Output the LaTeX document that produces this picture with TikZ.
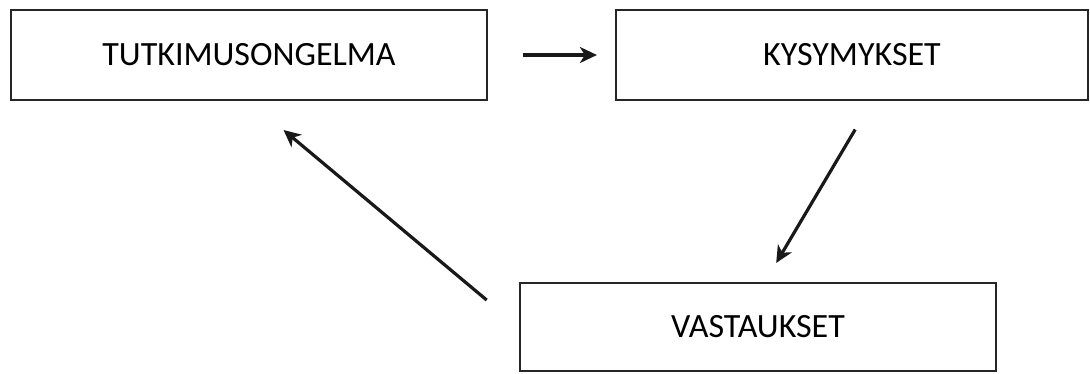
\documentclass[tikz,border=0pt]{standalone}
\usepackage{fontspec}
\setmainfont{Carlito}
\usetikzlibrary{arrows.meta}
\begin{document}
\begin{tikzpicture}[x=1pt,y=-1pt,
  box/.style={draw=black!85, line width=2.2pt, fill=white, minimum height=90pt,
    inner sep=0pt, font=\fontsize{34}{40}\selectfont},
  conn/.style={line width=3.2pt, black!90, -{Stealth[length=17pt,width=16pt,inset=5pt]}}]
\useasboundingbox (0,0) rectangle (1090,373);
\node[box, minimum width=476pt] (b1) at (249,55) {TUTKIMUSONGELMA};
\node[box, minimum width=472pt] (b2) at (852,55) {KYSYMYKSET};
\node[box, minimum width=476pt, minimum height=88pt] (b3) at (758,327) {VASTAUKSET};
\draw[conn, shorten <=35pt, shorten >=18pt] (b1.east) -- (b2.west);
\draw[conn, shorten <=33pt, shorten >=22pt] ([xshift=20pt]b2.south) -- ([xshift=7pt]b3.north);
\draw[conn, shorten <=42pt, shorten >=45pt] (b3.west) -- (b1.south);
\end{tikzpicture}
\end{document}
